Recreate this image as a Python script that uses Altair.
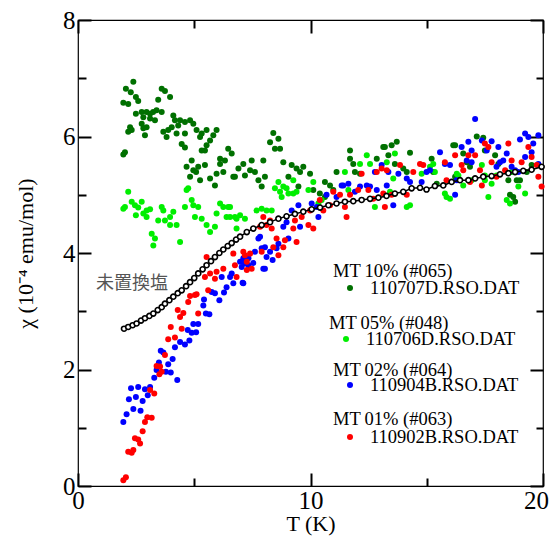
import altair as alt
import pandas as pd

# ---------------- data ----------------
T_MT10 = [2.38, 2.06, 2.27, 1.95, 2.16, 2.49, 2.59, 3.6, 3.74, 3.96, 3.45, 2.49, 2.74, 2.95, 3.1, 3.23, 3.38, 3.6,
          2.81, 3.1, 3.31, 2.74, 4.1, 4.17, 4.39, 4.6, 4.82, 4.96, 4.31, 4.03, 3.88, 2.24, 2.31, 2.16, 2.81, 2.95,
          2.88, 3.67, 3.81, 4.24, 4.6, 5.1, 5.32, 5.53, 5.25, 5.96, 5.82, 5.68, 4.46, 4.6, 5.53, 5.46, 5.32, 2.02,
          1.95, 6.46, 6.11, 6.32, 4.89, 4.67, 5.17, 5.08, 4.96, 5.46, 4.82, 5.25, 5.68, 5.89, 5.96, 6.25, 6.68, 6.9,
          6.11, 8.4, 8.26, 8.62, 8.69, 8.47, 6.61, 6.75, 7.11, 7.4, 7.18, 7.47, 7.61, 7.97, 8.04, 7.9, 7.76, 8.83,
          9.19, 9.4, 9.55, 9.69, 9.98, 9.05, 9.48, 10.12, 10.62, 10.84, 10.98, 11.12, 11.7, 11.84, 11.91, 12.13,
          11.7, 12.85, 13.13, 10.4, 10.62, 13.2, 13.49, 13.71, 13.35, 14.28, 13.63, 13.99, 14.14, 15.21, 16.22,
          17.15, 17.43, 17.5, 16.72, 17.94, 18.51, 19.01, 19.3, 18.72, 18.8, 18.58, 15.43, 15.28, 16.22, 19.51,
          16.57, 16.86, 18.08, 18.87, 16.14]
CHI_MT10 = [6.94, 6.82, 6.76, 6.58, 6.56, 6.68, 6.61, 6.82, 6.78, 6.68, 6.63, 6.39, 6.42, 6.42, 6.39, 6.42, 6.45, 6.42,
            6.33, 6.31, 6.28, 6.22, 6.36, 6.28, 6.28, 6.25, 6.28, 6.22, 6.19, 6.16, 6.11, 6.16, 6.11, 6.08, 6.14, 6.16,
            6.02, 6.08, 5.99, 6.05, 6.05, 6.11, 6.05, 6.11, 5.99, 6.11, 6.02, 5.93, 5.87, 5.81, 5.85, 5.76, 5.76, 5.73,
            5.69, 5.79, 5.62, 5.59, 5.59, 5.48, 5.48, 5.39, 5.42, 5.51, 5.31, 5.25, 5.28, 5.16, 5.36, 5.39, 5.31, 5.45,
            5.53, 6.06, 5.9, 5.96, 5.79, 5.79, 5.71, 5.31, 5.53, 5.42, 5.33, 5.59, 5.39, 5.59, 5.31, 5.14, 5.25, 5.56,
            5.51, 5.45, 5.39, 5.48, 5.36, 5.31, 5.14, 5.08, 5.22, 5.16, 5.08, 5.39, 5.62, 5.53, 5.39, 5.36,
            5.76, 5.62, 5.82, 5.02, 4.96, 5.82, 5.85, 5.91, 5.68, 5.72, 5.53, 5.45, 5.39, 5.62, 5.85,
            6.0, 5.98, 5.76, 5.56, 5.68, 5.25, 5.25, 5.39, 4.96, 4.88, 5.0, 5.19, 5.39, 5.31, 5.51,
            5.71, 5.48, 5.53, 5.25, 5.85]

T_MT05 = [2.16, 2.02, 1.95, 2.31, 2.45, 2.59, 2.74, 2.49, 2.81, 2.95, 3.1, 2.95, 3.6, 3.67, 4.1, 3.96, 3.74, 3.45,
          3.96, 4.24, 4.6, 4.89, 4.96, 5.17, 5.03, 5.32, 5.53, 4.74, 4.67, 6.11, 6.25, 5.96, 6.39, 6.75, 5.89, 6.46,
          3.17, 3.31, 3.24, 4.39, 5.68, 6.54, 6.82, 6.54, 6.97, 7.18, 6.82, 7.68, 7.9, 8.11, 8.33, 8.47, 8.83, 8.69,
          9.05, 9.4, 9.91, 9.26, 10.12, 10.48, 10.34, 11.63, 11.48, 12.42, 12.56, 12.77, 8.62, 8.97, 9.26, 8.76,
          14.28, 14.14, 15.85, 16.0, 17.65, 18.44, 18.58, 18.0, 17.5, 12.13, 13.28, 13.56, 15.14, 15.28, 16.29,
          15.78, 18.94, 19.23, 15.35, 16.36, 16.57, 13.42, 13.63, 14.78, 17.5, 17.79, 17.37, 18.65, 16.93]
CHI_MT05 = [5.05, 4.79, 4.76, 4.88, 4.82, 4.78, 4.88, 4.65, 4.68, 4.73, 4.75, 4.62, 4.79, 4.73, 4.71, 4.62, 4.56, 4.56,
            4.48, 4.48, 4.79, 4.91, 4.82, 4.79, 4.62, 4.59, 4.48, 5.11, 5.08, 4.85, 4.79, 4.68, 4.62, 4.62, 4.45, 4.79,
            4.33, 4.25, 4.13, 4.19, 4.36, 4.62, 4.59, 4.79, 4.65, 4.59, 4.42, 4.73, 4.76, 4.73, 4.73, 5.11, 5.14, 5.05,
            5.02, 5.05, 5.08, 5.25, 5.22, 4.91, 4.85, 5.08, 5.39, 5.68, 5.53, 4.79, 5.22, 5.11, 5.02, 4.96,
            4.82, 4.79, 4.96, 4.93, 4.96, 4.91, 4.85, 5.33, 5.33, 5.53, 5.56, 5.28, 5.48, 5.53, 5.36,
            5.02, 5.14, 5.02, 5.39, 5.33, 5.16, 5.05, 5.71, 5.36, 5.25, 5.19, 5.51, 5.39, 5.25]

T_MT02 = [1.95, 2.09, 2.38, 2.69, 2.19, 2.49, 2.78, 2.28, 2.59, 2.88, 3.1, 3.0, 3.28, 3.38, 3.48, 3.78, 3.99, 3.88,
          4.07, 4.27, 3.56, 3.67, 4.17, 4.39, 4.6, 4.79, 4.72, 4.89, 5.08, 4.96, 5.17, 5.39, 5.5, 5.65, 5.42, 5.75,
          5.89, 6.08, 6.28, 6.39, 6.68, 6.18, 6.54, 7.08, 6.97, 7.18, 7.33, 7.54, 8.04, 8.37, 7.9, 8.26, 6.61, 7.04,
          7.11, 7.33, 7.11, 7.61, 7.76, 7.83, 8.04, 8.11, 7.97, 8.54, 8.62, 9.05, 8.97, 8.83, 9.19, 9.48, 9.55,
          10.05, 10.27, 10.34, 10.69, 11.12, 11.41, 11.63, 11.91, 12.13, 12.42, 12.56, 12.85, 13.06, 12.77, 11.34,
          17.08, 13.35, 13.78, 14.14, 14.28, 13.28, 14.78, 14.99, 15.14, 15.57, 15.78, 16.0, 16.22, 16.29, 16.5,
          16.79, 16.72, 16.93, 16.93, 17.37, 17.58, 17.79, 18.08, 18.0, 18.15, 18.29, 18.44, 18.65, 18.8, 18.94,
          19.01, 19.23, 19.37, 19.8, 19.58, 19.51, 19.23, 19.8, 13.56]
CHI_MT02 = [1.10, 1.23, 1.32, 1.29, 1.49, 1.53, 1.46, 1.68, 1.70, 1.66, 1.70, 1.56, 1.86, 1.99, 2.12, 1.96, 1.95, 2.09,
            2.18, 1.82, 2.32, 2.29, 2.38, 2.47, 2.43, 2.50, 2.68, 2.63, 2.64, 2.78, 2.78, 3.1, 2.96, 2.95, 3.2, 3.33,
            3.31, 3.19, 3.32, 3.41, 3.48, 3.59, 3.59, 3.49, 3.85, 3.82, 3.79, 3.83, 3.73, 3.88, 4.08, 4.02, 3.65, 3.76,
            3.91, 3.91, 3.48, 4.02, 4.25, 4.28, 4.1, 3.93, 3.73, 4.08, 4.16, 4.25, 4.53, 4.45, 4.73, 4.82, 4.45,
            4.85, 4.79, 4.62, 5.0, 4.96, 5.16, 5.19, 5.05, 5.14, 5.16, 5.14, 5.08, 5.51, 5.39, 5.16,
            6.3, 5.39, 5.36, 5.28, 5.22, 5.16, 5.22, 5.39, 5.42, 5.73, 5.53, 5.51, 5.0, 5.25, 5.82,
            5.91, 5.59, 5.56, 5.76, 5.93, 5.76, 5.92, 5.82, 5.48, 5.56, 5.59, 5.71, 5.48, 5.42, 5.39,
            5.95, 6.05, 5.99, 6.02, 5.88, 5.73, 5.65, 5.53, 4.82]

T_MT01 = [1.95, 2.06, 2.16, 2.31, 2.38, 2.45, 2.59, 2.67, 2.78, 2.88, 2.98, 3.17, 3.1, 3.28, 3.38, 3.53, 3.6, 3.5,
          3.74, 3.88, 3.99, 4.17, 4.46, 4.29, 4.53, 4.39, 4.74, 4.82, 5.03, 5.1, 5.17, 5.46, 5.6, 5.68, 5.53, 5.89,
          5.96, 6.25, 6.68, 6.82, 7.11, 7.26, 7.4, 7.9, 8.4, 6.75, 7.18, 7.26, 7.47, 7.83, 7.97, 8.11, 8.26, 8.33,
          8.54, 8.62, 8.83, 8.9, 9.4, 9.26, 9.33, 9.62, 9.91, 10.12, 9.98, 10.4, 10.55, 10.84, 10.98, 11.27, 11.48,
          11.55, 11.7, 12.2, 12.05, 12.49, 12.85, 13.06, 13.28, 12.7, 13.2, 13.13, 13.85, 14.42, 14.71, 14.85,
          15.78, 16.22, 16.5, 16.57, 15.85, 16.79, 17.08, 17.37, 17.29, 17.5, 17.65, 17.79, 18.37, 18.0, 18.51,
          18.65, 19.08, 19.37, 19.51, 19.73, 19.8, 19.94, 13.49, 14.14, 16.86]
CHI_MT01 = [0.10, 0.15, 0.59, 0.57, 0.62, 0.82, 0.80, 0.73, 0.94, 1.10, 1.18, 1.17, 1.65, 1.59, 2.06, 2.05, 1.96, 1.92,
            2.25, 2.52, 2.73, 2.55, 2.70, 3.02, 2.97, 2.90, 3.16, 3.26, 3.28, 3.29, 2.96, 3.59, 3.36, 3.65, 3.93, 3.56,
            3.68, 3.73, 3.99, 3.59, 4.02, 3.85, 3.99, 4.02, 4.1, 3.79, 3.96, 3.71, 3.73, 4.45, 4.62, 4.48, 4.56, 4.42,
            4.25, 3.96, 4.1, 4.22, 4.19, 4.42, 4.56, 4.62, 4.48, 4.42, 4.73, 4.91, 4.73, 4.82, 5.05, 5.0, 4.79,
            4.62, 5.0, 5.36, 5.08, 5.08, 5.39, 5.45, 5.42, 4.93, 4.79, 5.02, 5.51, 5.39, 5.53, 5.51,
            5.56, 5.68, 5.51, 5.42, 5.25, 5.68, 5.68, 5.16, 5.42, 5.88, 5.82, 5.56, 5.42, 5.31, 5.88,
            5.59, 5.56, 5.82, 5.65, 5.51, 5.31, 5.14, 5.0, 5.0, 5.22]

T_REF = [1.98, 2.16, 2.35, 2.52, 2.71, 2.88, 3.07, 3.24, 3.43, 3.6, 3.74, 3.93, 4.1, 4.29, 4.46, 4.65, 4.82, 5.0,
         5.17, 5.36, 5.53, 5.72, 5.89, 6.08, 6.25, 6.44, 6.61, 6.8, 6.97, 7.26, 7.54, 7.9, 8.26, 8.62, 8.97, 9.33,
         9.69, 10.05, 10.41, 10.77, 11.12, 11.48, 11.84, 12.2, 12.56, 12.92, 13.27, 13.63, 13.99, 14.35, 14.71,
         14.99, 15.35, 15.71, 16.07, 16.43, 16.79, 17.08, 17.43, 17.79, 18.15, 18.51, 18.8, 19.15, 19.51, 19.94]
CHI_REF = [2.70, 2.73, 2.76, 2.79, 2.84, 2.88, 2.92, 2.96, 3.02, 3.07, 3.13, 3.19, 3.25, 3.31, 3.36, 3.43, 3.50, 3.57,
           3.65, 3.72, 3.79, 3.86, 3.93, 4.00, 4.06, 4.12, 4.17, 4.23, 4.28, 4.36, 4.42, 4.48, 4.53, 4.59, 4.63, 4.67,
           4.71, 4.75, 4.78, 4.82, 4.85, 4.88, 4.89, 4.91, 4.93, 4.95, 4.98, 5.02, 5.05, 5.11, 5.12,
           5.09, 5.15, 5.16, 5.22, 5.25, 5.25, 5.28, 5.31, 5.32, 5.35, 5.37, 5.39, 5.41, 5.43, 5.48]

LEGEND_HEAD = ["MT\u200910% (#065)", "MT\u200905% (#048)", "MT\u200902% (#064)", "MT\u200901% (#063)"]
LEGEND_FILE = ["110707D.RSO.DAT", "110706D.RSO.DAT", "110904B.RSO.DAT", "110902B.RSO.DAT"]
REF_LABEL = "未置換塩"

COLORS = ["#007000", "#00ee00", "#0000ff", "#ff0000"]

# ---------------- helpers ----------------
SERIF = "Liberation Serif"
XS = alt.Scale(domain=[0, 20], nice=False, zero=False)
YS = alt.Scale(domain=[0, 8], nice=False, zero=False)


def frame(t, c):
    return pd.DataFrame({"T": t, "chi": c})


def axis(orient, values, size, labels=False, title=None):
    kw = dict(orient=orient, values=values, tickSize=size, offset=-size, domain=False, grid=False,
              tickColor="black", tickWidth=2, labels=labels, title=title)
    if labels:
        kw.update(labelFont=SERIF, labelFontSize=25, labelColor="black",
                  labelPadding=2 if orient in ("bottom", "top") else 3, labelFlush=False)
        if orient == "bottom":
            kw.update(labelOffset={"condition": {"test": "datum.value == 20", "value": -7}, "value": 0})
    if title:
        kw.update(titleFont=SERIF, titleFontSize=22, titleFontWeight="normal", titleColor="black",
                  titlePadding=0 if orient == "bottom" else 25)
    return alt.Axis(**kw)


def dots(t, c, color, xaxis, yaxis):
    return alt.Chart(frame(t, c)).mark_circle(size=36, opacity=1, color=color).encode(
        x=alt.X("T:Q", scale=XS, axis=xaxis),
        y=alt.Y("chi:Q", scale=YS, axis=yaxis),
    )


l_mt10 = dots(T_MT10, CHI_MT10, COLORS[0],
              axis("bottom", [0, 10, 20], 13, labels=True, title="T (K)"),
              axis("left", [0, 2, 4, 6, 8], 13, labels=True, title="χ (10⁻⁴ emu/mol)"))
l_mt05 = dots(T_MT05, CHI_MT05, COLORS[1],
              axis("top", [0, 10, 20], 13), axis("right", [0, 2, 4, 6, 8], 13))
l_mt01 = dots(T_MT01, CHI_MT01, COLORS[3],
              axis("bottom", [5, 15], 8), axis("left", [1, 3, 5, 7], 8))
l_mt02 = dots(T_MT02, CHI_MT02, COLORS[2],
              axis("top", [5, 15], 8), axis("right", [1, 3, 5, 7], 7))

ref = alt.Chart(frame(T_REF, CHI_REF))
ref_line = ref.mark_line(color="black", strokeWidth=1.5).encode(
    x=alt.X("T:Q", scale=XS, axis=None), y=alt.Y("chi:Q", scale=YS, axis=None))
ref_pts = ref.mark_point(shape="circle", size=26, fill="white", stroke="black", strokeWidth=1.6,
                         opacity=1, fillOpacity=1).encode(
    x=alt.X("T:Q", scale=XS, axis=None), y=alt.Y("chi:Q", scale=YS, axis=None))

# annotations (pixel positions inside the plot area)
one = pd.DataFrame({"k": [0]})
ann = []
ann.append(alt.Chart(one).mark_text(text=REF_LABEL, font="Noto Sans CJK JP", fontSize=18, color="#555555",
                                    align="left", baseline="middle").encode(
    x=alt.value(18), y=alt.value(264)))

head_pos = [(255, 251), (251, 303), (255, 350), (255, 399)]
dot_pos = [(272, 268), (268, 319), (272, 365), (272, 417)]
legend_colors = [COLORS[0], COLORS[1], COLORS[2], COLORS[3]]
for i in range(4):
    hx, hy = head_pos[i]
    dx, dy = dot_pos[i]
    ann.append(alt.Chart(one).mark_text(text=LEGEND_HEAD[i], font=SERIF, fontSize=18.5, color="black",
                                        align="left", baseline="middle").encode(
        x=alt.value(hx), y=alt.value(hy)))
    ann.append(alt.Chart(one).mark_circle(size=36, opacity=1, color=legend_colors[i]).encode(
        x=alt.value(dx), y=alt.value(dy)))
    ann.append(alt.Chart(one).mark_text(text=LEGEND_FILE[i], font=SERIF, fontSize=18.5, color="black",
                                        align="left", baseline="middle").encode(
        x=alt.value(dx + 20), y=alt.value(dy)))

chart = alt.layer(l_mt10, l_mt05, l_mt02, l_mt01, ref_line, ref_pts, *ann).resolve_axis(
    x="independent", y="independent"
).properties(
    width=465, height=466,
    autosize=alt.AutoSizeParams(type="none"),
    padding={"left": 70, "top": 12, "right": 6, "bottom": 52},
).configure_view(stroke="black", strokeWidth=1.2)

chart.save("out.html", embed_options={"renderer": "svg", "actions": False})
